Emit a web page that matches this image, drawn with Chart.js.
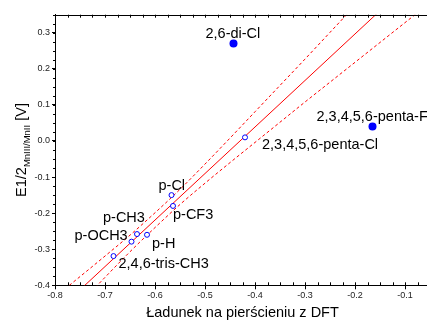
<!DOCTYPE html>
<html>
<head>
<meta charset="utf-8">
<script src="https://cdn.jsdelivr.net/npm/chart.js@4/dist/chart.umd.min.js"></script>
<style>
  html, body { margin: 0; padding: 0; background: #fff; overflow: hidden; }
  #wrap { width: 440px; height: 322px; }
</style>
</head>
<body>
<div id="wrap"><canvas id="c" width="440" height="322"></canvas></div>
<script>
// Substituents: ring charge from DFT vs. half-wave potential E1/2 (MnIII/MnII)
const categories = ['2,6-di-Cl', '2,3,4,5,6-penta-F', '2,3,4,5,6-penta-Cl', 'p-Cl', 'p-CF3', 'p-CH3', 'p-H', 'p-OCH3', '2,4,6-tris-CH3'];
const chargeValues = [-0.443, -0.165, -0.420, -0.567, -0.564, -0.636, -0.616, -0.647, -0.683];
const potentialValues = [0.270, 0.040, 0.010, -0.150, -0.180, -0.258, -0.260, -0.279, -0.319];
// filled markers = points left out of the regression
const excludedFromFit = [true, true, false, false, false, false, false, false, false];

// regression line
const fitX = [-0.80, -0.05];
const fitY = [-0.477, 0.490];

// 95% confidence band
const bandX = [-0.78, -0.70, -0.65, -0.60, -0.55, -0.50, -0.45, -0.40, -0.35, -0.30, -0.25, -0.20, -0.15, -0.10, -0.05];
const bandUpper = [-0.410, -0.319, -0.261, -0.199, -0.134, -0.064, 0.008, 0.081, 0.154, 0.227, 0.301, 0.375, 0.449, 0.523, 0.597];
const bandLower = [-0.494, -0.378, -0.307, -0.240, -0.176, -0.117, -0.060, -0.004, 0.052, 0.108, 0.163, 0.218, 0.273, 0.328, 0.383];

// axis ticks
const xTickValues = [-0.8, -0.7, -0.6, -0.5, -0.4, -0.3, -0.2, -0.1];
const yTickValues = [-0.4, -0.3, -0.2, -0.1, 0.0, 0.1, 0.2, 0.3];

// label placement relative to each marker (left edge, vertical centre), px
const labelOffsets = [[-28, -10], [-56, -10], [17, 8], [-13, -9], [0, 9], [-34, -16], [5, 9], [-57, -6], [5, 8]];

const FONT = '"Liberation Sans", Arial, sans-serif';
const zip = (xs, ys) => xs.map((x, i) => ({ x: x, y: ys[i] }));

const openPts = [], filledPts = [];
chargeValues.forEach((x, i) => {
  (excludedFromFit[i] ? filledPts : openPts).push({ x: x, y: potentialValues[i] });
});

const framePlugin = {
  id: 'frame',
  afterDraw(chart) {
    const ctx = chart.ctx;
    const a = chart.chartArea;
    const xs = chart.scales.x, ys = chart.scales.y;
    ctx.save();
    ctx.strokeStyle = '#000';
    ctx.lineWidth = 1;
    // top border
    ctx.beginPath();
    ctx.moveTo(a.left, Math.round(a.top) + 0.5);
    ctx.lineTo(a.right, Math.round(a.top) + 0.5);
    ctx.stroke();
    // minor ticks every 0.025
    ctx.beginPath();
    for (let k = 0; k <= 30; k++) {
      const v = -0.8 + k * 0.025;
      const px = Math.round(xs.getPixelForValue(v)) + 0.5;
      ctx.moveTo(px, a.top); ctx.lineTo(px, a.top + 3);
      ctx.moveTo(px, a.bottom); ctx.lineTo(px, a.bottom - 3);
    }
    for (let k = 0; k <= 30; k++) {
      const v = -0.4 + k * 0.025;
      if (v > 0.351) break;
      const py = Math.round(ys.getPixelForValue(v)) + 0.5;
      ctx.moveTo(a.left, py); ctx.lineTo(a.left - 2, py);
    }
    ctx.stroke();
    ctx.restore();
  }
};

const labelPlugin = {
  id: 'pointLabels',
  afterDatasetsDraw(chart) {
    const ctx = chart.ctx;
    const xs = chart.scales.x, ys = chart.scales.y;
    ctx.save();
    ctx.font = '14.5px ' + FONT;
    ctx.fillStyle = '#000';
    ctx.textAlign = 'left';
    ctx.textBaseline = 'middle';
    categories.forEach((name, i) => {
      const px = xs.getPixelForValue(chargeValues[i]);
      const py = ys.getPixelForValue(potentialValues[i]);
      ctx.fillText(name, px + labelOffsets[i][0], py + labelOffsets[i][1]);
    });
    ctx.restore();
  }
};

const yTitlePlugin = {
  id: 'yTitle',
  afterDraw(chart) {
    const ctx = chart.ctx;
    const a = chart.chartArea;
    const parts = [
      { t: 'E1/2', f: '14.5px ' + FONT, dy: 0 },
      { t: 'MnIII/MnII', f: '9.5px ' + FONT, dy: 3.5 },
      { t: ' [V]', f: '14.5px ' + FONT, dy: 0 }
    ];
    ctx.save();
    let total = 0;
    parts.forEach(p => { ctx.font = p.f; p.w = ctx.measureText(p.t).width; total += p.w; });
    ctx.translate(26, (a.top + a.bottom) / 2);
    ctx.rotate(-Math.PI / 2);
    ctx.fillStyle = '#000';
    ctx.textBaseline = 'alphabetic';
    let x = -total / 2;
    parts.forEach(p => { ctx.font = p.f; ctx.fillText(p.t, x, p.dy); x += p.w; });
    ctx.restore();
  }
};

new Chart(document.getElementById('c'), {
  type: 'scatter',
  data: {
    datasets: [
      {
        label: 'fit',
        data: openPts,
        pointStyle: 'circle',
        pointRadius: 2.5,
        pointBorderWidth: 1,
        pointBorderColor: '#0000ff',
        pointBackgroundColor: '#ffffff',
        showLine: false
      },
      {
        label: 'excluded',
        data: filledPts,
        pointStyle: 'circle',
        pointRadius: 4,
        pointBorderWidth: 0,
        pointBorderColor: '#0000ff',
        pointBackgroundColor: '#0000ff',
        showLine: false
      },
      {
        label: 'regression',
        data: zip(fitX, fitY),
        showLine: true,
        borderColor: '#ff0000',
        borderWidth: 1,
        pointRadius: 0,
        fill: false
      },
      {
        label: 'upper 95%',
        data: zip(bandX, bandUpper),
        showLine: true,
        borderColor: '#ff0000',
        borderWidth: 1,
        borderDash: [3, 2.5],
        cubicInterpolationMode: 'monotone',
        pointRadius: 0,
        fill: false
      },
      {
        label: 'lower 95%',
        data: zip(bandX, bandLower),
        showLine: true,
        borderColor: '#ff0000',
        borderWidth: 1,
        borderDash: [3, 2.5],
        cubicInterpolationMode: 'monotone',
        pointRadius: 0,
        fill: false
      }
    ]
  },
  options: {
    responsive: false,
    animation: false,
    devicePixelRatio: 1,
    layout: { padding: { top: 14.7, right: 10, left: 0, bottom: 0 } },
    plugins: { legend: { display: false }, tooltip: { enabled: false } },
    scales: {
      x: {
        type: 'linear',
        min: -0.8,
        max: -0.05,
        afterBuildTicks: s => { s.ticks = xTickValues.map(v => ({ value: v })); },
        afterFit: s => { s.height = 36.7; },
        grid: { display: true, drawOnChartArea: false, drawTicks: true, tickLength: 4, color: '#000' },
        border: { display: true, color: '#000', width: 1 },
        ticks: {
          padding: 1,
          color: '#222',
          font: { family: FONT, size: 9 },
          maxRotation: 0,
          callback: v => v.toFixed(1)
        },
        title: {
          display: true,
          text: 'Ładunek na pierścieniu z DFT',
          color: '#000',
          font: { family: FONT, size: 14.5 },
          padding: { top: 0, bottom: 0 }
        }
      },
      y: {
        type: 'linear',
        min: -0.4,
        max: 0.35,
        afterBuildTicks: s => { s.ticks = yTickValues.map(v => ({ value: v })); },
        afterFit: s => { s.width = 55; },
        grid: { display: true, drawOnChartArea: false, drawTicks: true, tickLength: 3, color: '#000' },
        border: { display: true, color: '#000', width: 1 },
        ticks: {
          padding: 2,
          color: '#222',
          font: { family: FONT, size: 9 },
          callback: v => v.toFixed(1)
        }
      }
    }
  },
  plugins: [framePlugin, labelPlugin, yTitlePlugin]
});
</script>
</body>
</html>
